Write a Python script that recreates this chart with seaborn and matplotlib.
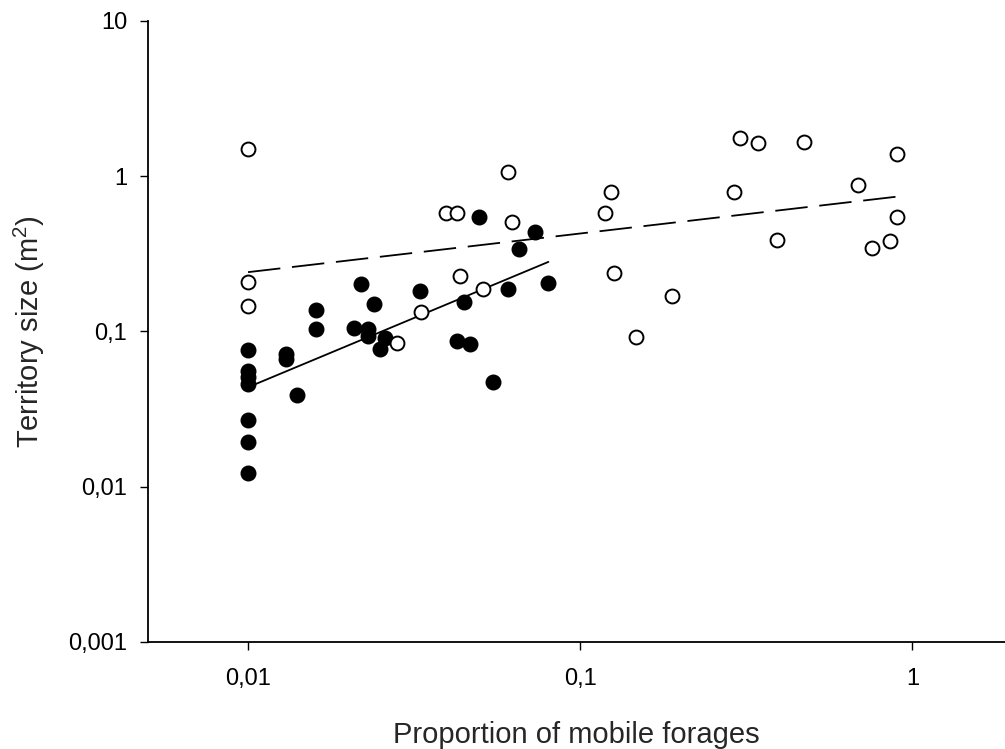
import numpy as np
import pandas as pd
import matplotlib
matplotlib.use("Agg")
import matplotlib.pyplot as plt
import seaborn as sns
from matplotlib.ticker import FixedLocator, FixedFormatter, NullLocator

# ---- data ----
filled_x = [0.01, 0.01, 0.01, 0.01, 0.01, 0.01, 0.01,
            0.013, 0.013, 0.014, 0.016, 0.016, 0.0209, 0.0219,
            0.0229, 0.0229, 0.0239, 0.0249, 0.0259, 0.033,
            0.0427, 0.0448, 0.0466, 0.0496, 0.0546, 0.0607,
            0.0656, 0.0733, 0.0802]
filled_y = [0.076, 0.056, 0.051, 0.046, 0.027, 0.0195, 0.0123,
            0.072, 0.066, 0.039, 0.138, 0.104, 0.105, 0.203,
            0.104, 0.094, 0.151, 0.077, 0.091, 0.183,
            0.087, 0.155, 0.083, 0.547, 0.0476, 0.189,
            0.338, 0.44, 0.205]

open_x = [0.01, 0.01, 0.01, 0.0281, 0.0332, 0.0394, 0.0425, 0.0436,
          0.0509, 0.0607, 0.0622, 0.1184, 0.124, 0.126, 0.147, 0.189,
          0.29, 0.302, 0.344, 0.392, 0.472, 0.687, 0.755, 0.855,
          0.898, 0.898]
open_y = [1.49, 0.208, 0.145, 0.0842, 0.133, 0.58, 0.58, 0.229,
          0.189, 1.07, 0.508, 0.58, 0.793, 0.239, 0.0915, 0.168,
          0.793, 1.75, 1.64, 0.386, 1.67, 0.875, 0.345, 0.381,
          1.40, 0.544]

x_ticks = [0.01, 0.1, 1]
x_tick_labels = ["0,01", "0,1", "1"]
y_ticks = [0.001, 0.01, 0.1, 1, 10]
y_tick_labels = ["0,001", "0,01", "0,1", "1", "10"]

x_label = "Proportion of mobile forages"
y_label = "Territory size (m$^2$)"

# ---- figure ----
sns.set_theme(style="ticks")
plt.rcParams["font.family"] = ["Liberation Sans", "DejaVu Sans"]
plt.rcParams["mathtext.fontset"] = "custom"
plt.rcParams["mathtext.rm"] = "Liberation Sans"

fig = plt.figure(figsize=(10.05, 7.49), dpi=100)
ax = fig.add_axes([0.1473, 0.1429, 0.8527, 0.8291])

df_f = pd.DataFrame({"x": filled_x, "y": filled_y})
df_o = pd.DataFrame({"x": open_x, "y": open_y})


def fit_line(xs, ys):
    lx, ly = np.log10(xs), np.log10(ys)
    b, a = np.polyfit(lx, ly, 1)
    gx = np.linspace(lx.min(), lx.max(), 50)
    return pd.DataFrame({"x": 10 ** gx, "y": 10 ** (a + b * gx)})


fit_f = fit_line(np.array(filled_x), np.array(filled_y))
fit_o = fit_line(np.array(open_x), np.array(open_y))

ax.plot(fit_f["x"], fit_f["y"], color="black", lw=1.3, zorder=1)
ax.plot(fit_o["x"], fit_o["y"], color="black", lw=1.3, zorder=1,
        dashes=(18, 6.5))

sns.scatterplot(data=df_f, x="x", y="y", ax=ax, color="black",
                edgecolor="black", s=110, linewidth=1.0, zorder=3)
sns.scatterplot(data=df_o, x="x", y="y", ax=ax, facecolor="white",
                edgecolor="black", s=100, linewidth=1.4, zorder=3)

ax.set_xscale("log")
ax.set_yscale("log")
ax.set_xlim(0.005, 1.9)
ax.set_ylim(0.001, 10)

ax.xaxis.set_major_locator(FixedLocator(x_ticks))
ax.xaxis.set_major_formatter(FixedFormatter(x_tick_labels))
ax.yaxis.set_major_locator(FixedLocator(y_ticks))
ax.yaxis.set_major_formatter(FixedFormatter(y_tick_labels))
ax.xaxis.set_minor_locator(NullLocator())
ax.yaxis.set_minor_locator(NullLocator())

ax.tick_params(axis="both", direction="out", length=6, width=1.0,
               labelsize=17, colors="black")
ax.tick_params(axis="x", pad=13)
ax.tick_params(axis="y", pad=9)

for s in ["top", "right"]:
    ax.spines[s].set_visible(False)
for s in ["left", "bottom"]:
    ax.spines[s].set_linewidth(1.3)
    ax.spines[s].set_color("black")

ax.set_xlabel(x_label, fontsize=21, labelpad=22)
ax.set_ylabel(y_label, fontsize=21, labelpad=15)

fig.savefig("out.png", dpi=100, facecolor="white")
